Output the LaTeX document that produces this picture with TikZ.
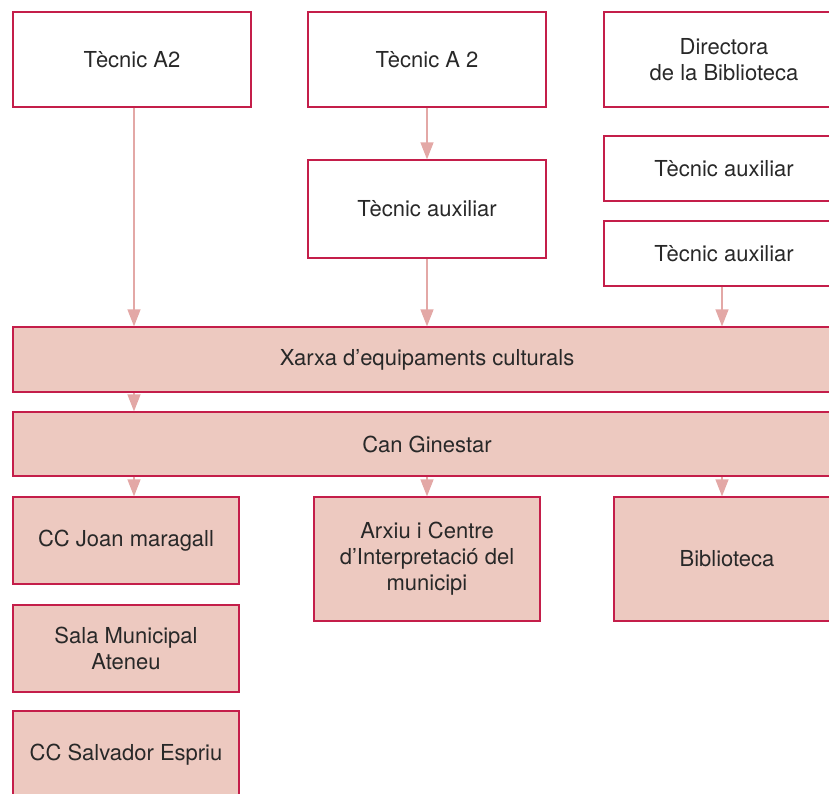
\documentclass[tikz,border=0pt]{standalone}
\usepackage{fontspec}
\setmainfont{TeX Gyre Heros}
\definecolor{orgred}{RGB}{196, 30, 74}
\definecolor{orgfill}{RGB}{237, 201, 192}
\definecolor{orgarrow}{RGB}{227, 168, 166}
\definecolor{orgtext}{RGB}{40, 40, 40}
\usetikzlibrary{arrows.meta}

\begin{document}
\begin{tikzpicture}[x=1pt, y=-1pt,
    post/.style={draw=orgred, line width=1.3pt, inner sep=0pt, align=center, text=orgtext, minimum width=238pt, font=\fontsize{22}{26}\selectfont},
    unit/.style={post, fill=orgfill},
    link/.style={draw=orgarrow, line width=1.4pt, -{Triangle[width=13pt, length=17pt]}}]
  \useasboundingbox (0,0) rectangle (829,793);
  \clip (0,0) rectangle (829,793);

  % Staff (top row)
  \node[post, minimum height=95pt] (tecA) at (132, 59.5) {Tècnic A2};
  \node[post, minimum height=95pt] (tecB) at (427, 59.5) {Tècnic A 2};
  \node[post, minimum height=98pt] (auxM) at (427, 209) {Tècnic auxiliar};
  \node[post, minimum height=95pt, minimum width=240pt] (dir) at (724, 59.5) {Directora\\de la Biblioteca};
  \node[post, minimum height=65pt, minimum width=240pt] (auxR) at (724, 168.5) {Tècnic auxiliar};
  \node[post, minimum height=65pt, minimum width=240pt] (auxS) at (724, 253.5) {Tècnic auxiliar};

  % Network and centre
  \node[unit, minimum height=65pt, minimum width=828pt] (xarxa) at (427, 359.5) {Xarxa d’equipaments culturals};
  \node[unit, minimum height=64pt, minimum width=828pt] (can) at (427, 444) {Can Ginestar};

  % Facilities
  \node[unit, minimum height=87pt, minimum width=226pt] (joan) at (126, 540.5) {CC Joan maragall};
  \node[unit, minimum height=87pt, minimum width=226pt] (sala) at (126, 648.5) {Sala Municipal\\Ateneu};
  \node[unit, minimum height=88pt, minimum width=226pt] (salv) at (126, 755) {CC Salvador Espriu};
  \node[unit, minimum height=124pt, minimum width=226pt] (arxiu) at (427, 559) {Arxiu i Centre\\d’Interpretació del\\municipi};
  \node[unit, minimum height=124pt, minimum width=226pt] (bib) at (727, 559) {Biblioteca};

  % Connectors
  \coordinate (colA) at (134, 0);
  \coordinate (colC) at (722, 0);
  \draw[link] (tecA.south -| colA) -- (xarxa.north -| colA);
  \draw[link] (tecB) -- (auxM);
  \draw[link] (auxM) -- (xarxa.north -| auxM);
  \draw[link] (auxS.south -| colC) -- (xarxa.north -| colC);
  \draw[link] (xarxa.south -| colA) -- (can.north -| colA);
  \draw[link] (can.south -| colA) -- (joan.north -| colA);
  \draw[link] (can.south -| arxiu) -- (arxiu);
  \draw[link] (can.south -| colC) -- (bib.north -| colC);
\end{tikzpicture}
\end{document}
